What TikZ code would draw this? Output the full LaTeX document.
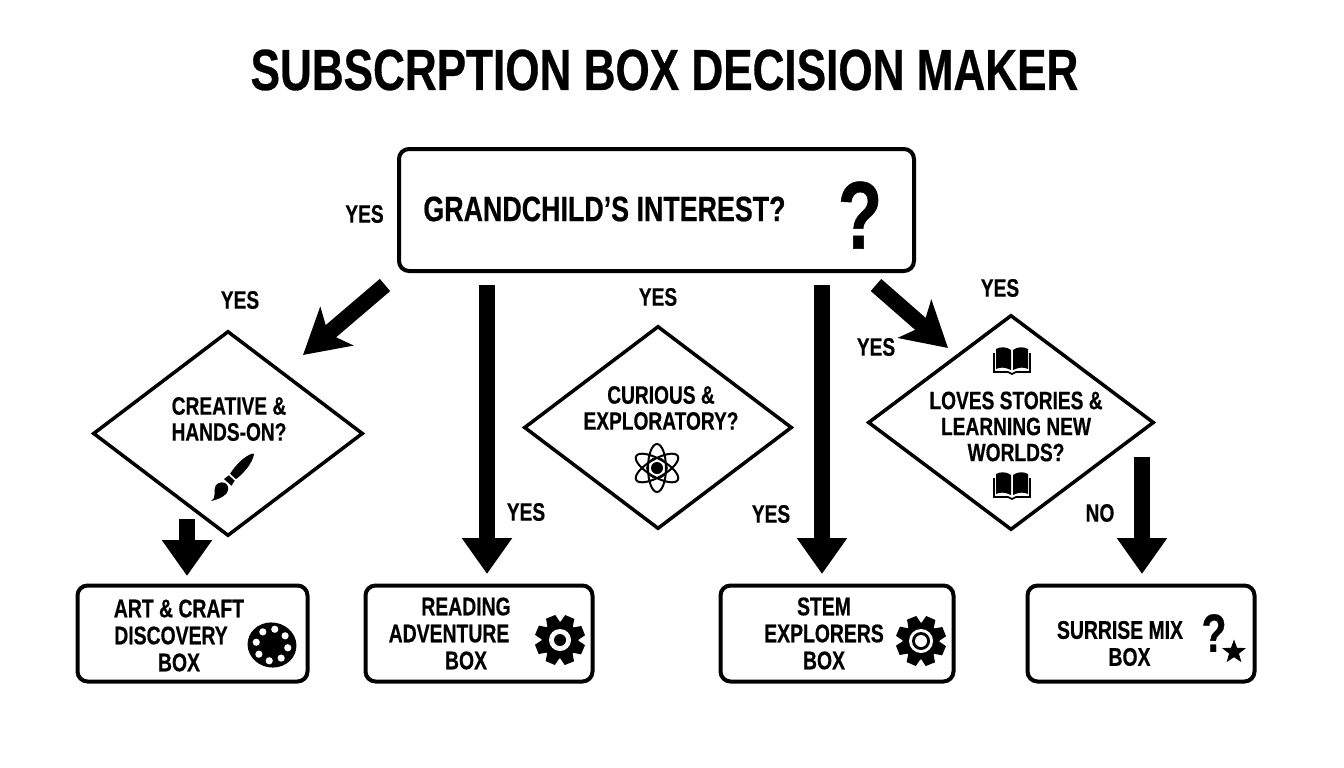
\documentclass[tikz,border=0pt]{standalone}
\usepackage{fontspec}
\setmainfont[FakeStretch=0.76,FakeBold=0.5]{Liberation Sans}
\usetikzlibrary{arrows.meta,shapes.geometric}

\tikzset{
  answer/.style={font=\bfseries\fontsize{25.2}{26}\selectfont},
  asktext/.style={font=\bfseries\fontsize{25.2}{26}\selectfont,align=center},
  boxtext/.style={font=\bfseries\fontsize{25.5}{27}\selectfont,align=center},
  box/.style={draw,line width=4pt,rounded corners=10pt,minimum width=#1,minimum height=96pt},
  ask/.style={draw,diamond,line width=3.5pt,inner sep=0pt},
  bigarrow/.style={line width=16pt,-{Triangle[length=36pt,width=48pt]}},
  slantarrow/.style={line width=16pt,-{Stealth[length=44pt,width=50pt,inset=11pt]}},
  gearicon/.pic={
    \fill (0,0) circle (18.5);
    \foreach \a in {0,45,...,315}
      \fill[rotate=\a+22] (-5,-25) -- (5,-25) -- (7,-15) -- (-7,-15) -- cycle;
  },
  bookicon/.pic={
    \fill (-1,-11) .. controls (-7,-15) and (-12,-14) .. (-16,-12) -- (-16,8) .. controls (-12,6) and (-7,6) .. (-1,9) -- cycle;
    \fill (1,-11) .. controls (7,-15) and (12,-14) .. (16,-12) -- (16,8) .. controls (12,6) and (7,6) .. (1,9) -- cycle;
    \draw[line width=1.6pt] (-18,-8) -- (-18,11) -- (-4,11) -- (0,13) -- (4,11) -- (18,11) -- (18,-8);
  },
  atomicon/.pic={
    \foreach \a in {0,60,120}
      \draw[line width=2pt,rotate=\a] (0,0) ellipse (9 and 24);
    \draw[line width=1.6pt] (0,0) circle (10);
    \fill (0,0) circle (6);
  },
  paletteicon/.pic={
    \fill[rotate=-10] (0,0) ellipse (24.5 and 22.5);
    \foreach \a in {10,55,...,325}
      \fill[white] (\a:16) circle (3.6);
  },
  brushicon/.pic={
    \fill (0,0) .. controls (6,3) and (9,-6) .. (15,-7) .. controls (20,-7) and (23,-3) .. (23,0) .. controls (23,4) and (18,8) .. (12,6) .. controls (8,5) and (4,3) .. (0,0) -- cycle;
    \fill (25,-5) -- (31,-4) -- (31,4) -- (25,5) -- cycle;
    \fill (33,-4) .. controls (44,-6) and (56,-5) .. (63,-1) .. controls (64,0) and (64,1) .. (63,1) .. controls (56,5) and (44,6) .. (33,4) -- cycle;
  },
}

\begin{document}
\begin{tikzpicture}[x=1pt,y=-1pt]
  \useasboundingbox (0,0) rectangle (1344,768);

  \node[font=\bfseries\fontsize{58}{60}\selectfont] (title) at (664.5,70) {SUBSCRPTION BOX DECISION MAKER};

  \node[box=515pt,minimum height=122pt] (top) at (656.5,210) {};
  \node[box=230pt] (art) at (192.5,633.5) {};
  \node[box=227pt] (reading) at (479,633.5) {};
  \node[box=233pt] (stem) at (837,633.5) {};
  \node[box=227pt] (surprise) at (1141,633.5) {};

  \node[ask,minimum width=270pt,minimum height=205pt] (creative) at (228,433.5) {};
  \node[ask,minimum width=268pt,minimum height=203pt] (curious) at (658,427.5) {};
  \node[ask,minimum width=286pt,minimum height=215pt] (stories) at (1011,422.5) {};

  \node[font=\bfseries\fontsize{35.3}{40}\selectfont] (toptext) at (604.5,209) {GRANDCHILD’S INTEREST?};
  \node[font=\bfseries\fontsize{96}{100}\selectfont] (topmark) at (860,215) {?};

  \node[asktext] (creativetext) at (229,419) {CREATIVE \&\\HANDS-ON?};
  \node[asktext] (curioustext) at (661,408) {CURIOUS \&\\EXPLORATORY?};
  \node[asktext] (storiestext) at (1016,426.5) {LOVES STORIES \&\\LEARNING NEW\\WORLDS?};

  \node[boxtext] (arttext) at (179,635.5) {ART \& CRAFT\\DISCOVERY\hspace*{16pt}\mbox{}\\BOX};
  \node[boxtext] (readingtext) at (466,633.5) {READING\\ADVENTURE\hspace*{34pt}\mbox{}\\BOX};
  \node[boxtext] (stemtext) at (824,633.5) {STEM\\EXPLORERS\\BOX};
  \node[boxtext] (surprisetext) at (1120,643.5) {SURRISE MIX\\\hspace*{19pt}BOX};
  \node[font=\bfseries\fontsize{54}{56}\selectfont] (surprisemark) at (1214,633) {?};
  \node[star,fill=black,star points=5,star point ratio=2.4,minimum size=25pt,inner sep=0pt] (surprisestar) at (1234,652) {};

  \node[answer] (yestop) at (364.5,214) {YES};
  \node[answer] (yescreative) at (240,300) {YES};
  \node[answer] (yescurious) at (658,297) {YES};
  \node[answer] (yesstories) at (1000,288) {YES};
  \node[answer] (yesslant) at (876,347) {YES};
  \node[answer] (yesreading) at (526,512) {YES};
  \node[answer] (yesstem) at (771,514) {YES};
  \node[answer] (nosurprise) at (1100,513) {NO};

  \coordinate (outcreative) at (385,285);
  \coordinate (increative) at (303,355);
  \coordinate (outreading) at (487,285);
  \coordinate (inreading) at (487,574);
  \coordinate (outstem) at (822,285);
  \coordinate (instem) at (822,574);
  \coordinate (outstories) at (876,285);
  \coordinate (instories) at (948,348);
  \coordinate (outcreativebox) at (187,519);
  \coordinate (inart) at (187,576);
  \coordinate (outnosurprise) at (1142,457);
  \coordinate (insurprise) at (1142,574);

  \draw[slantarrow] (outcreative) -- (increative);
  \draw[bigarrow] (outreading) -- (inreading);
  \draw[bigarrow] (outstem) -- (instem);
  \draw[slantarrow] (outstories) -- (instories);
  \draw[bigarrow] (outcreativebox) -- (inart);
  \draw[bigarrow] (outnosurprise) -- (insurprise);

  \pic[rotate=48] at (211,501) {brushicon};
  \pic at (657,468) {atomicon};
  \pic at (1012,361) {bookicon};
  \pic at (1012,486) {bookicon};
  \pic at (272,645) {paletteicon};
  \pic at (560,640) {gearicon};
  \fill[white] (560,640) circle (11);
  \fill (560,640) circle (6);
  \pic at (921,641) {gearicon};
  \fill[white] (921,641) circle (12);
  \fill (921,641) circle (9);
  \fill[white] (921,641) circle (6);
\end{tikzpicture}
\end{document}
